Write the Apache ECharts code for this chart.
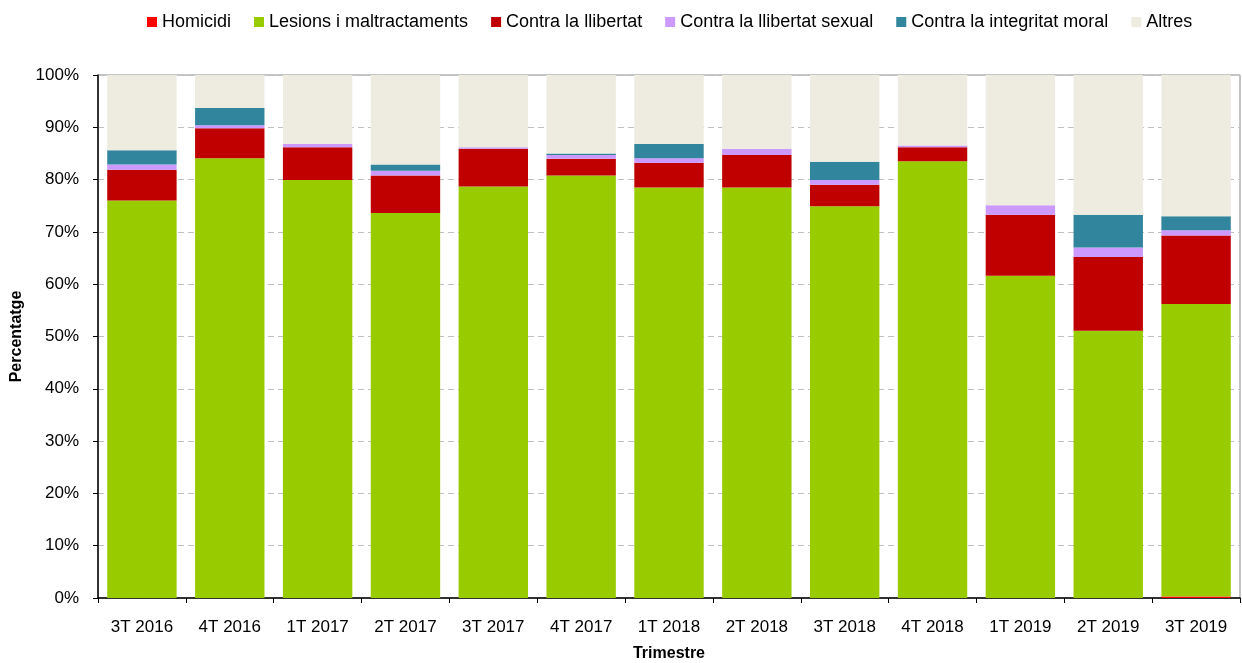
<!DOCTYPE html>
<html>
<head>
<meta charset="utf-8">
<script src="https://cdn.jsdelivr.net/npm/echarts@6/dist/echarts.min.js"></script>
<style>
  html, body { margin: 0; padding: 0; background: #fff; }
  #chart { width: 1242px; height: 663px; }
</style>
</head>
<body>
<div id="chart"></div>
<script>
// trimestres
const categories = ['3T 2016', '4T 2016', '1T 2017', '2T 2017', '3T 2017', '4T 2017', '1T 2018',
  '2T 2018', '3T 2018', '4T 2018', '1T 2019', '2T 2019', '3T 2019']

// percentatges per tipus de delicte
const homicidi = [0, 0, 0, 0, 0, 0, 0, 0, 0, 0, 0, 0, 0.3]
const lesions = [76.0, 84.1, 79.9, 73.6, 78.7, 80.8, 78.5, 78.5, 74.9, 83.5, 61.6, 51.1, 55.9]
const llibertat = [5.9, 5.7, 6.3, 7.2, 7.2, 3.2, 4.7, 6.2, 4.1, 2.7, 11.7, 14.1, 13.1]
const llibertatSexual = [1.0, 0.6, 0.6, 0.9, 0.3, 0.7, 0.9, 1.2, 0.9, 0.3, 1.8, 1.8, 1.0]
const integritatMoral = [2.7, 3.3, 0, 1.2, 0, 0.3, 2.7, 0, 3.5, 0, 0, 6.3, 2.7]
const altres = [14.4, 6.3, 13.2, 17.1, 13.8, 15.0, 13.2, 14.1, 16.6, 13.5, 24.9, 26.7, 27.0]

const yTicks = { min: 0, max: 100, interval: 10 }

const font = "'Liberation Sans', Arial, sans-serif"

const seriesDefs = [
  { name: 'Homicidi', data: homicidi, color: '#ff0000' },
  { name: 'Lesions i maltractaments', data: lesions, color: '#99cc00' },
  { name: 'Contra la llibertat', data: llibertat, color: '#c00000' },
  { name: 'Contra la llibertat sexual', data: llibertatSexual, color: '#cc99ff' },
  { name: 'Contra la integritat moral', data: integritatMoral, color: '#31859c' },
  { name: 'Altres', data: altres, color: '#eeece1' },
]

const chart = echarts.init(document.getElementById('chart'))

chart.setOption({
  backgroundColor: '#fff',
  animation: false,
  textStyle: { fontFamily: font },
  legend: {
    top: 8,
    left: 142,
    itemWidth: 10,
    itemHeight: 10,
    itemGap: 23,
    icon: 'rect',
    textStyle: { fontSize: 18, color: '#000', fontFamily: font },
    data: seriesDefs.map((s) => s.name),
  },
  grid: {
    left: 98,
    right: 2,
    top: 75,
    bottom: 65,
    outerBoundsMode: 'none',
    show: true,
    borderColor: '#8c8c8c',
    borderWidth: 1,
    backgroundColor: 'transparent',
  },
  xAxis: {
    type: 'category',
    data: categories,
    name: 'Trimestre',
    nameLocation: 'middle',
    nameGap: 48,
    nameTextStyle: { fontSize: 16, fontWeight: 'bold', color: '#000', fontFamily: font },
    axisLine: { lineStyle: { color: '#000', width: 1.5 } },
    axisTick: { show: true, length: 5, lineStyle: { color: '#000' } },
    axisLabel: { fontSize: 17, color: '#000', margin: 21, fontFamily: font },
  },
  yAxis: {
    type: 'value',
    min: yTicks.min,
    max: yTicks.max,
    interval: yTicks.interval,
    name: 'Percentatge',
    nameLocation: 'middle',
    nameGap: 71,
    nameRotate: 90,
    nameTextStyle: { fontSize: 16, fontWeight: 'bold', color: '#000', fontFamily: font },
    axisLine: { show: true, lineStyle: { color: '#000', width: 1.5 } },
    axisTick: { show: true, length: 5, lineStyle: { color: '#000' } },
    axisLabel: { fontSize: 17, color: '#000', margin: 19, formatter: '{value}%', fontFamily: font },
    splitLine: { lineStyle: { color: '#c0c0c0', type: [6, 4] } },
  },
  series: seriesDefs.map((s) => ({
    name: s.name,
    type: 'bar',
    stack: 'total',
    barCategoryGap: '21%',
    data: s.data,
    itemStyle: { color: s.color },
  })),
})
</script>
</body>
</html>
